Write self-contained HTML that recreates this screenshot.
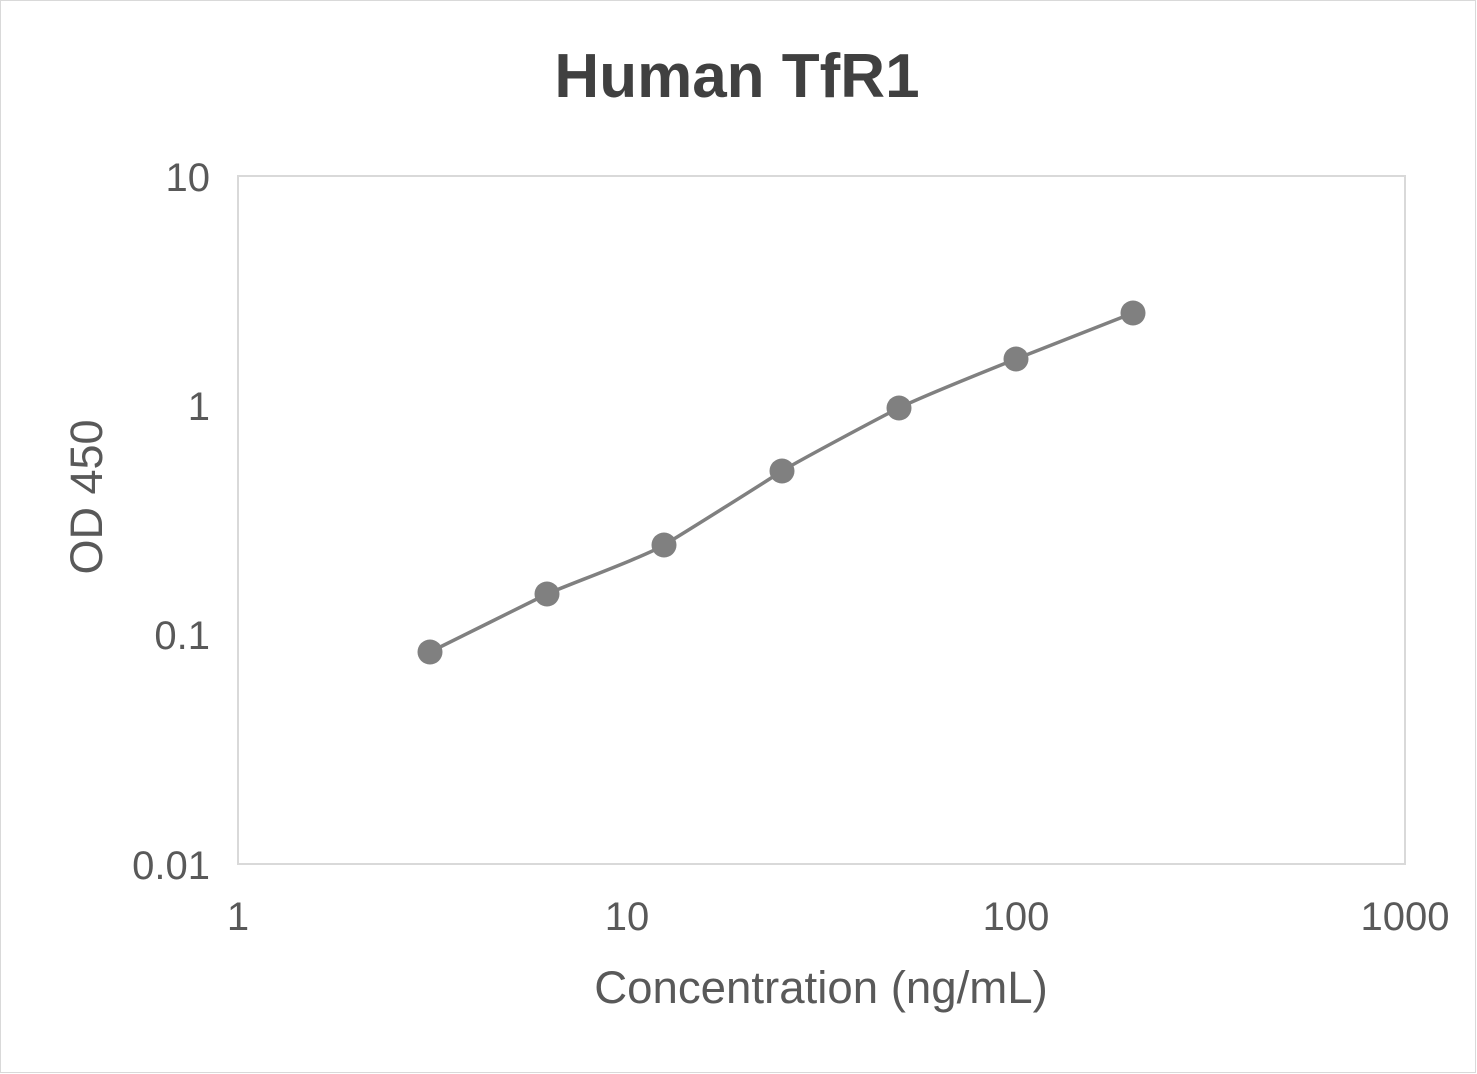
<!DOCTYPE html>
<html><head><style>
html,body{margin:0;padding:0;background:#fff;}
</style></head><body>
<svg width="1477" height="1074" xmlns="http://www.w3.org/2000/svg" style="display:block">
<rect x="0.5" y="0.5" width="1475" height="1072" fill="#fff" stroke="#d9d9d9" stroke-width="1"/>
<text x="737" y="97" text-anchor="middle" font-family="Liberation Sans, sans-serif" font-weight="bold" font-size="62" fill="#404040">Human TfR1</text>
<rect x="238" y="176" width="1167" height="688" fill="none" stroke="#d9d9d9" stroke-width="2"/>
<g font-family="Liberation Sans, sans-serif" font-size="40" fill="#595959">
<text x="210" y="191" text-anchor="end">10</text>
<text x="210" y="420" text-anchor="end">1</text>
<text x="210" y="649" text-anchor="end">0.1</text>
<text x="210" y="879" text-anchor="end">0.01</text>
<text x="238" y="930" text-anchor="middle">1</text>
<text x="627" y="930" text-anchor="middle">10</text>
<text x="1016" y="930" text-anchor="middle">100</text>
<text x="1405" y="930" text-anchor="middle">1000</text>
<text x="821" y="1003" text-anchor="middle" font-size="45.6">Concentration (ng/mL)</text>
<text transform="translate(102,497) rotate(-90)" text-anchor="middle" font-size="45">OD 450</text>
</g>
<path d="M430,652 C450,642 527,604 547,594 C567,585 644,557 664,545 C684,533 762,484 782,471 C802,459 879,418 899,408 C919,398 996,367 1016,359 C1036,351 1113,321 1133,313" fill="none" stroke="#808080" stroke-width="3.5"/>
<g fill="#808080">
<circle cx="430" cy="652" r="12.5"/><circle cx="547" cy="594" r="12.5"/><circle cx="664" cy="545" r="12.5"/><circle cx="782" cy="471" r="12.5"/><circle cx="899" cy="408" r="12.5"/><circle cx="1016" cy="359" r="12.5"/><circle cx="1133" cy="313" r="12.5"/>
</g>
</svg>
</body></html>
